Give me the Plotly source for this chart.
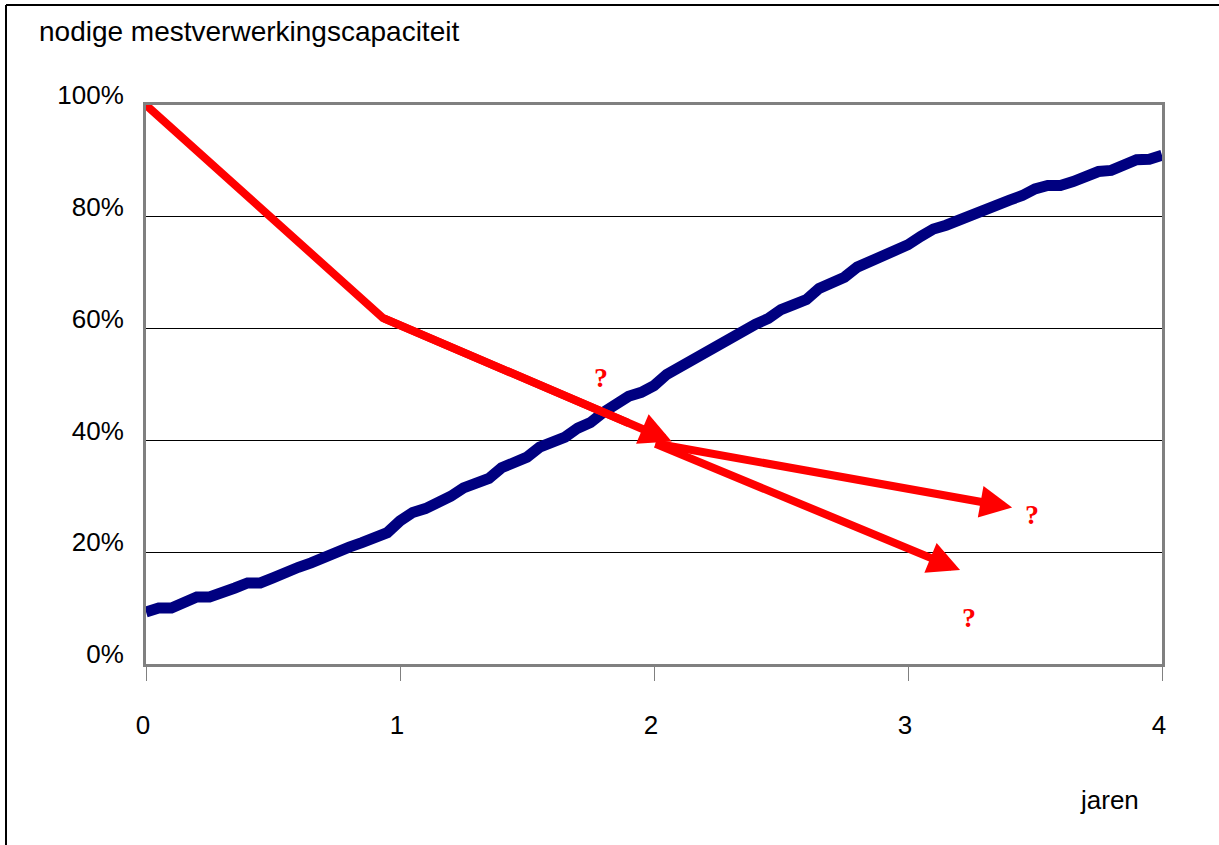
import plotly.graph_objects as go

# ---- data ----
years = [0.00, 0.05, 0.10, 0.15, 0.20, 0.25, 0.30, 0.35, 0.40, 0.45,
         0.50, 0.55, 0.60, 0.65, 0.70, 0.75, 0.80, 0.85, 0.90, 0.95,
         1.00, 1.05, 1.10, 1.15, 1.20, 1.25, 1.30, 1.35, 1.40, 1.45,
         1.50, 1.55, 1.60, 1.65, 1.70, 1.75, 1.80, 1.85, 1.90, 1.95,
         2.00, 2.05, 2.10, 2.15, 2.20, 2.25, 2.30, 2.35, 2.40, 2.45,
         2.50, 2.55, 2.60, 2.65, 2.70, 2.75, 2.80, 2.85, 2.90, 2.95,
         3.00, 3.05, 3.10, 3.15, 3.20, 3.25, 3.30, 3.35, 3.40, 3.45,
         3.50, 3.55, 3.60, 3.65, 3.70, 3.75, 3.80, 3.85, 3.90, 3.95,
         4.00]
blue_pct = [9.3, 10.0, 10.0, 11.0, 12.0, 12.0, 12.6, 13.6, 14.5, 14.5,
            15.4, 16.6, 17.3, 18.1, 19.2, 20.0, 20.9, 21.7, 22.6, 23.5,
            25.6, 27.1, 27.8, 28.7, 30.0, 31.5, 32.2, 33.2, 35.1, 36.0,
            37.0, 38.8, 39.8, 40.6, 42.2, 43.2, 45.0, 46.3, 47.9, 48.6,
            49.8, 51.8, 53.1, 54.7, 56.0, 57.3, 58.6, 60.0, 60.8, 61.8,
            63.4, 64.3, 65.2, 67.2, 68.4, 69.2, 71.0, 72.0, 72.7, 73.6,
            75.0, 76.5, 77.8, 78.5, 79.5, 80.5, 81.5, 82.3, 83.0, 83.8,
            85.0, 85.6, 85.6, 86.3, 87.4, 88.1, 88.3, 89.3, 90.2, 90.3,
            91.0]
blue = [v / 100 for v in blue_pct]

# red path: start, bend, then arrows
red_x = [0.0, 0.933]
red_y = [1.00, 0.619]

# arrows: tails and heads
arrow_tail_x = [0.933, 2.00, 2.00]
arrow_tail_y = [0.619, 0.395, 0.395]
arrow_head_x = [2.07, 3.41, 3.205]
arrow_head_y = [0.398, 0.280, 0.168]

q_x = [1.79, 3.49, 3.24]
q_y = [0.513, 0.268, 0.084]

y_ticks = [0, 0.2, 0.4, 0.6, 0.8, 1.0]
x_ticks = [0, 1, 2, 3, 4]

title_text = "nodige mestverwerkingscapaciteit"
xlabel_text = "jaren"

FONT = "Arial, Liberation Sans, sans-serif"
L, R, T, B = 146, 57, 105, 181
W, H = 1219, 845
PW, PH = W - L - R, H - T - B


def px2paper_x(px):
    return (px - L) / PW


def px2paper_y(py):
    return (H - B - py) / PH


# continue the red polyline a little way along the first arrow so the bend joins cleanly
frac = 0.85
red_path_x = red_x + [arrow_tail_x[0] + frac * (arrow_head_x[0] - arrow_tail_x[0])]
red_path_y = red_y + [arrow_tail_y[0] + frac * (arrow_head_y[0] - arrow_tail_y[0])]

fig = go.Figure()
fig.add_trace(go.Scatter(x=years, y=blue, mode="lines",
                         line=dict(color="#000080", width=11),
                         hoverinfo="skip", showlegend=False))
fig.add_trace(go.Scatter(x=red_path_x, y=red_path_y, mode="lines",
                         line=dict(color="#FF0000", width=8),
                         hoverinfo="skip", showlegend=False))

annotations = []
for tx, ty, hx, hy in zip(arrow_tail_x, arrow_tail_y, arrow_head_x, arrow_head_y):
    annotations.append(dict(x=hx, y=hy, ax=tx, ay=ty, xref="x", yref="y",
                            axref="x", ayref="y", text="", showarrow=True,
                            arrowhead=2, arrowsize=0.8, arrowwidth=8,
                            arrowcolor="#FF0000", standoff=0))
for qx, qy in zip(q_x, q_y):
    annotations.append(dict(x=qx, y=qy, xref="x", yref="y", text="<b>?</b>",
                            showarrow=False,
                            font=dict(family="Times New Roman, Liberation Serif, serif",
                                      size=28, color="#FF0000")))
annotations.append(dict(x=px2paper_x(37), y=px2paper_y(32), xref="paper", yref="paper",
                        xanchor="left", yanchor="middle", text=title_text,
                        showarrow=False, font=dict(family=FONT, size=28, color="black")))
annotations.append(dict(x=px2paper_x(1109), y=px2paper_y(800), xref="paper", yref="paper",
                        xanchor="center", yanchor="middle", text=xlabel_text,
                        showarrow=False, font=dict(family=FONT, size=26, color="black")))

shapes = [
    dict(type="line", xref="paper", yref="paper", x0=px2paper_x(6), x1=px2paper_x(1219),
         y0=px2paper_y(5), y1=px2paper_y(5), line=dict(color="black", width=2)),
    dict(type="line", xref="paper", yref="paper", x0=px2paper_x(6), x1=px2paper_x(6),
         y0=px2paper_y(5), y1=px2paper_y(845), line=dict(color="black", width=2)),
]

fig.update_layout(
    width=W, height=H,
    margin=dict(l=L, r=R, t=T, b=B, pad=0),
    paper_bgcolor="white", plot_bgcolor="white",
    font=dict(family=FONT, size=26, color="black"),
    annotations=annotations, shapes=shapes,
    showlegend=False,
)
fig.update_xaxes(range=[0, 4], tickvals=x_ticks, ticktext=[str(v) for v in x_ticks],
                 showgrid=False, zeroline=False, showline=True, mirror=True,
                 linecolor="#808080", linewidth=3, ticks="outside", ticklen=14,
                 tickcolor="#808080", tickwidth=1, ticklabelstandoff=22,
                 ticklabelshift=-3, tickfont=dict(family=FONT, size=26))
fig.update_yaxes(range=[0, 1], tickvals=y_ticks, tickformat=".0%",
                 showgrid=True, gridcolor="black", gridwidth=1, zeroline=False,
                 showline=True, mirror=True, linecolor="#808080", linewidth=3,
                 ticks="", ticklabelstandoff=14, ticklabelshift=-10,
                 tickfont=dict(family=FONT, size=26))

fig.write_html("out.html", config={"displayModeBar": False},
               post_script="document.body.style.margin='0';")
